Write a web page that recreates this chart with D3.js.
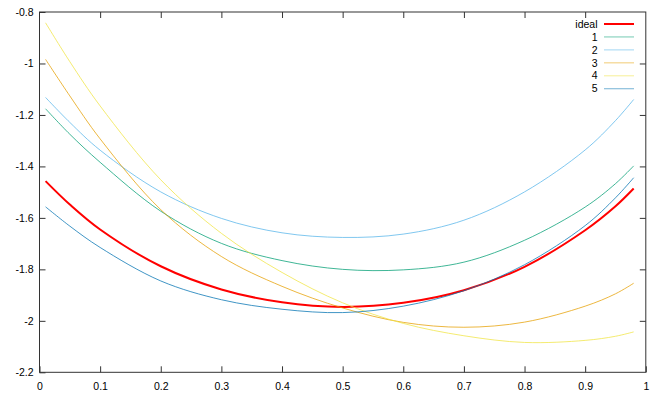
<!DOCTYPE html>
<html>
<head>
<meta charset="utf-8">
<script src="https://cdn.jsdelivr.net/npm/d3@7"></script>
<style>
  body { margin: 0; background: #fff; }
  svg { display: block; font-family: "Liberation Sans", Arial, sans-serif; }
</style>
</head>
<body>
<svg id="chart"></svg>
<script>
// values
const xs = [0.01, 0.05, 0.1, 0.2, 0.3, 0.4, 0.5, 0.6, 0.7, 0.8, 0.9, 0.95, 0.98];
const ideal = [-1.457, -1.548, -1.645, -1.788, -1.878, -1.928, -1.946, -1.930, -1.881, -1.790, -1.648, -1.555, -1.486];
const run1 = [-1.176, -1.275, -1.384, -1.574, -1.699, -1.766, -1.800, -1.802, -1.772, -1.687, -1.558, -1.467, -1.398];
const run2 = [-1.132, -1.229, -1.337, -1.499, -1.602, -1.658, -1.676, -1.663, -1.609, -1.499, -1.336, -1.222, -1.140];
const run3 = [-0.984, -1.126, -1.293, -1.568, -1.750, -1.866, -1.950, -2.006, -2.025, -2.005, -1.943, -1.895, -1.854];
const run4 = [-0.842, -0.993, -1.165, -1.452, -1.660, -1.812, -1.930, -2.010, -2.058, -2.084, -2.076, -2.060, -2.043];
const run5 = [-1.557, -1.632, -1.715, -1.845, -1.918, -1.955, -1.968, -1.943, -1.883, -1.782, -1.630, -1.522, -1.444];

const seriesNames = ["ideal", "1", "2", "3", "4", "5"];
const xTicks = [0, 0.1, 0.2, 0.3, 0.4, 0.5, 0.6, 0.7, 0.8, 0.9, 1];
const yTicks = [-2.2, -2, -1.8, -1.6, -1.4, -1.2, -1, -0.8];

const series = [
  { name: seriesNames[0], values: ideal, color: "#ff0000", width: 2 },
  { name: seriesNames[1], values: run1, color: "#009e73", width: 1 },
  { name: seriesNames[2], values: run2, color: "#56b4e9", width: 1 },
  { name: seriesNames[3], values: run3, color: "#e69f00", width: 1 },
  { name: seriesNames[4], values: run4, color: "#f0e442", width: 1 },
  { name: seriesNames[5], values: run5, color: "#0072b2", width: 1 }
];

const W = 664, H = 399;
const m = { left: 39.5, right: 645.8, top: 12, bottom: 372.3 };

const svg = d3.select("#chart").attr("width", W).attr("height", H);

const x = d3.scaleLinear().domain([0, 1]).range([m.left, m.right]);
const y = d3.scaleLinear().domain([-2.2, -0.8]).range([m.bottom, m.top]);

// gnuplot style labels: plain hyphen, no trailing zeros
const fmt = (d) => String(+d.toFixed(1));

const axisColor = "#333";
const fontSize = "10.5px";

function styleAxis(g) {
  g.select(".domain").remove();
  g.selectAll(".tick line").attr("stroke", axisColor);
  g.selectAll(".tick text").attr("fill", "#000").style("font-size", fontSize);
  g.attr("font-family", null).attr("font-size", null);
}

svg.append("g")
  .attr("transform", `translate(0,${m.bottom})`)
  .call(d3.axisBottom(x).tickValues(xTicks).tickFormat(fmt).tickSizeInner(-6).tickSizeOuter(0).tickPadding(10))
  .call(styleAxis);

svg.append("g")
  .attr("transform", `translate(0,${m.top})`)
  .call(d3.axisTop(x).tickValues(xTicks.slice(1, -1)).tickFormat("").tickSizeInner(-6).tickSizeOuter(0))
  .call(styleAxis);

svg.append("g")
  .attr("transform", `translate(${m.left},0)`)
  .call(d3.axisLeft(y).tickValues(yTicks).tickFormat(fmt).tickSizeInner(-6).tickSizeOuter(0).tickPadding(6))
  .call(styleAxis);

svg.append("g")
  .attr("transform", `translate(${m.right},0)`)
  .call(d3.axisRight(y).tickValues(yTicks.slice(1, -1)).tickFormat("").tickSizeInner(-6).tickSizeOuter(0))
  .call(styleAxis);

// border
svg.append("rect")
  .attr("x", m.left).attr("y", m.top)
  .attr("width", m.right - m.left).attr("height", m.bottom - m.top)
  .attr("fill", "none").attr("stroke", axisColor).attr("stroke-width", 1);

const line = d3.line()
  .x((d, i) => x(xs[i]))
  .y((d) => y(d))
  .curve(d3.curveCatmullRom.alpha(0.5));

series.forEach((s) => {
  svg.append("path")
    .datum(s.values)
    .attr("d", line)
    .attr("fill", "none")
    .attr("stroke", s.color)
    .attr("stroke-width", s.width)
    .attr("stroke-opacity", s.width > 1 ? 1 : 0.75);
});

// legend
const legend = svg.append("g");
const rowY = d3.scaleLinear().domain([0, 1]).range([24, 36.95]);
series.forEach((s, i) => {
  const yy = rowY(i);
  legend.append("text")
    .attr("x", 597.5).attr("y", yy)
    .attr("dy", "0.35em")
    .attr("text-anchor", "end")
    .style("font-size", fontSize)
    .text(s.name);
  legend.append("line")
    .attr("x1", 604).attr("x2", 634)
    .attr("y1", yy).attr("y2", yy)
    .attr("stroke", s.color)
    .attr("stroke-width", s.width)
    .attr("stroke-opacity", s.width > 1 ? 1 : 0.55);
});
</script>
</body>
</html>
